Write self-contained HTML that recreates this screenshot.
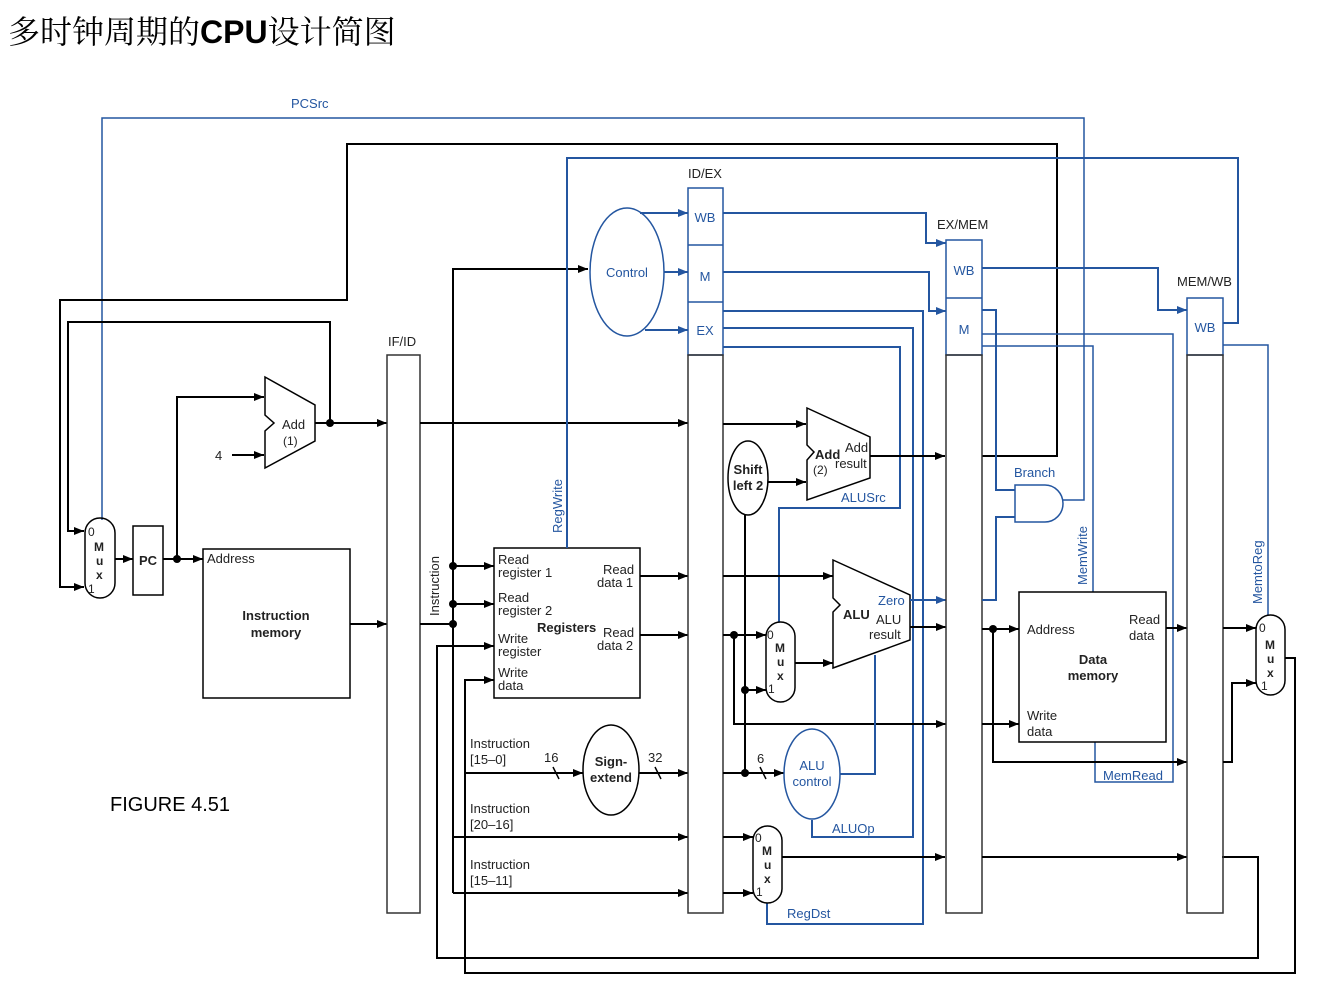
<!DOCTYPE html>
<html><head><meta charset="utf-8"><style>
html,body{margin:0;padding:0;background:#fff;width:1325px;height:1003px;overflow:hidden}
svg{display:block}
text{font-family:"Liberation Sans",Arial,sans-serif;font-size:13px;fill:#222}
.b{fill:none;stroke:#000;stroke-width:2}
.u{fill:none;stroke:#2456a0;stroke-width:2}
.bl{fill:#2456a0}
.bo{font-weight:bold}
</style></head><body>
<svg width="1325" height="1003" viewBox="0 0 1325 1003" xmlns="http://www.w3.org/2000/svg">
<defs>
<marker id="a" markerWidth="10" markerHeight="8" refX="10" refY="4" orient="auto" markerUnits="userSpaceOnUse"><path d="M0,0L10,4L0,8z" fill="#000"/></marker>
<marker id="c" markerWidth="10" markerHeight="8" refX="10" refY="4" orient="auto" markerUnits="userSpaceOnUse"><path d="M0,0L10,4L0,8z" fill="#2456a0"/></marker>
</defs>
<text x="8" y="43" style="font-family:'Liberation Sans','Noto Serif CJK SC','Noto Sans CJK SC',sans-serif;font-size:32px;fill:#000">多时钟周期的<tspan font-weight="bold" style="font-family:'Liberation Sans',sans-serif">CPU</tspan>设计简图</text>
<text x="110" y="811" style="font-size:20px;fill:#000">FIGURE 4.51</text>

<!-- PCSrc -->
<text x="291" y="108" class="bl">PCSrc</text>
<path class="u" style="stroke-width:1.5" d="M102,520V118H1084V500H1063"/>
<!-- big branch loop -->
<path class="b" d="M982,456H1057V144H347V300H60V587H84" marker-end="url(#a)"/>
<path class="b" d="M330,423V322H68V531H84" marker-end="url(#a)"/>
<!-- mux PC -->
<rect x="85" y="518" width="30" height="80" rx="15" class="b" style="stroke-width:1.5"/>
<text x="88" y="536" style="font-size:12px">0</text><text x="94" y="551" class="bo" style="font-size:12px">M</text><text x="96" y="565" class="bo" style="font-size:12px">u</text><text x="96" y="579" class="bo" style="font-size:12px">x</text><text x="88" y="593" style="font-size:12px">1</text>
<path class="b" d="M115,559H133" marker-end="url(#a)"/>
<rect x="133" y="526" width="30" height="69" class="b" style="stroke-width:1.5"/>
<text x="139" y="565" class="bo">PC</text>
<path class="b" d="M163,559H203" marker-end="url(#a)"/>
<circle cx="177" cy="559" r="4"/>
<path class="b" d="M177,559V397H264" marker-end="url(#a)"/>
<text x="215" y="460">4</text>
<path class="b" d="M232,455H264" marker-end="url(#a)"/>
<polygon points="265,377 315,405 315,441 265,468 265,431 274,423 265,415" fill="#fff" stroke="#000" stroke-width="1.5"/>
<text x="282" y="429">Add</text><text x="283" y="445" style="font-size:12px">(1)</text>
<path class="b" d="M315,423H387" marker-end="url(#a)"/>
<circle cx="330" cy="423" r="4"/>
<!-- instruction memory -->
<rect x="203" y="549" width="147" height="149" class="b" style="stroke-width:1.5"/>
<text x="207" y="563">Address</text>
<text x="276" y="620" text-anchor="middle" class="bo">Instruction</text><text x="276" y="637" text-anchor="middle" class="bo">memory</text>
<path class="b" d="M350,624H387" marker-end="url(#a)"/>
<!-- IF/ID -->
<text x="388" y="346">IF/ID</text>
<rect x="387" y="355" width="33" height="558" fill="#fff" stroke="#333" stroke-width="1.5"/>
<path class="b" d="M420,423H688" marker-end="url(#a)"/>
<path class="b" d="M420,624H453"/>
<path class="b" d="M453,893V269H588" marker-end="url(#a)"/>
<circle cx="453" cy="566" r="4"/><circle cx="453" cy="604" r="4"/><circle cx="453" cy="624" r="4"/>
<path class="b" d="M453,566H494" marker-end="url(#a)"/>
<path class="b" d="M453,604H494" marker-end="url(#a)"/>
<text transform="translate(439,616) rotate(-90)">Instruction</text>
<path class="b" d="M465,773H583" marker-end="url(#a)"/>
<path class="b" d="M453,837H688" marker-end="url(#a)"/>
<path class="b" d="M453,893H688" marker-end="url(#a)"/>
<text x="470" y="748">Instruction</text><text x="470" y="764">[15–0]</text>
<text x="470" y="813">Instruction</text><text x="470" y="829">[20–16]</text>
<text x="470" y="869">Instruction</text><text x="470" y="885">[15–11]</text>
<text x="544" y="762">16</text><path d="M553,767L559,779" stroke="#000" stroke-width="1.5"/>
<text x="648" y="762">32</text><path d="M655,767L661,779" stroke="#000" stroke-width="1.5"/>
<!-- write reg / write data loops -->
<path class="b" d="M1222,857H1258V958H437V646H494" marker-end="url(#a)"/>
<path class="b" d="M1285,658H1295V973H465V680H494" marker-end="url(#a)"/>
<!-- registers -->
<rect x="494" y="548" width="146" height="150" class="b" style="stroke-width:1.5;fill:#fff"/>
<text x="498" y="564">Read</text><text x="498" y="577">register 1</text>
<text x="498" y="602">Read</text><text x="498" y="615">register 2</text>
<text x="498" y="643">Write</text><text x="498" y="656">register</text>
<text x="498" y="677">Write</text><text x="498" y="690">data</text>
<text x="603" y="574">Read</text><text x="597" y="587">data 1</text>
<text x="603" y="637">Read</text><text x="597" y="650">data 2</text>
<text x="537" y="632" class="bo">Registers</text>
<path class="b" d="M640,576H688" marker-end="url(#a)"/>
<path class="b" d="M640,635H688" marker-end="url(#a)"/>
<!-- sign extend -->
<ellipse cx="611" cy="770" rx="28" ry="45" class="b" style="stroke-width:1.5;fill:#fff"/>
<text x="611" y="766" text-anchor="middle" class="bo">Sign-</text><text x="611" y="782" text-anchor="middle" class="bo">extend</text>
<path class="b" d="M639,773H688" marker-end="url(#a)"/>
<!-- control -->
<ellipse cx="627" cy="272" rx="37" ry="64" class="u" style="stroke-width:1.5;fill:#fff"/>
<text x="627" y="277" text-anchor="middle" class="bl">Control</text>
<path class="u" d="M640,213H688" marker-end="url(#c)"/>
<path class="u" d="M664,272H688" marker-end="url(#c)"/>
<path class="u" d="M645,330H688" marker-end="url(#c)"/>
<!-- RegWrite -->
<path class="u" d="M1223,323H1238V158H567V548"/>
<text transform="translate(562,533) rotate(-90)" class="bl">RegWrite</text>
<!-- ID/EX -->
<text x="688" y="178">ID/EX</text>
<rect x="688" y="188" width="35" height="167" fill="#fff" stroke="#2456a0" stroke-width="1.5"/>
<path d="M688,245H723M688,302H723" stroke="#2456a0" stroke-width="1.5"/>
<text x="705" y="222" text-anchor="middle" class="bl">WB</text>
<text x="705" y="281" text-anchor="middle" class="bl">M</text>
<text x="705" y="335" text-anchor="middle" class="bl">EX</text>
<rect x="688" y="355" width="35" height="558" fill="none" stroke="#333" stroke-width="1.5"/>
<!-- blue from ID/EX -->
<path class="u" d="M723,213H926V243H946" marker-end="url(#c)"/>
<path class="u" d="M723,272H929V311H946" marker-end="url(#c)"/>
<path class="u" d="M723,311H923V924H767V903"/>
<path class="u" d="M723,328H913V837H812V820"/>
<path class="u" d="M723,347H900V508H779V622"/>
<text x="841" y="502" class="bl">ALUSrc</text>
<text x="832" y="833" class="bl">ALUOp</text>
<text x="787" y="918" class="bl">RegDst</text>
<!-- ID/EX black outputs -->
<path class="b" d="M723,424H806" marker-end="url(#a)"/>
<path class="b" d="M723,576H833" marker-end="url(#a)"/>
<path class="b" d="M723,635H766" marker-end="url(#a)"/>
<circle cx="734" cy="635" r="4"/>
<path class="b" d="M734,635V724H946" marker-end="url(#a)"/>
<path class="b" d="M723,773H784" marker-end="url(#a)"/>
<circle cx="745" cy="773" r="4"/><circle cx="745" cy="690" r="4"/>
<path class="b" d="M745,773V515"/>
<path class="b" d="M745,690H766" marker-end="url(#a)"/>
<text x="757" y="763">6</text><path d="M760,767L766,779" stroke="#000" stroke-width="1.5"/>
<path class="b" d="M723,837H753" marker-end="url(#a)"/>
<path class="b" d="M723,893H753" marker-end="url(#a)"/>
<!-- shift left 2 -->
<ellipse cx="748" cy="478" rx="20" ry="37" fill="#fff" stroke="#000" stroke-width="1.5"/>
<text x="748" y="474" text-anchor="middle" class="bo">Shift</text><text x="748" y="490" text-anchor="middle" class="bo">left 2</text>
<path class="b" d="M768,482H806" marker-end="url(#a)"/>
<!-- Add 2 -->
<polygon points="807,408 870,437 870,478 807,500 807,460 814,452 807,445" fill="#fff" stroke="#000" stroke-width="1.5"/>
<text x="815" y="459" class="bo">Add</text><text x="845" y="452">Add</text><text x="835" y="468">result</text><text x="813" y="474" style="font-size:12px">(2)</text>
<path class="b" d="M870,456H945" marker-end="url(#a)"/>
<!-- ALU -->
<polygon points="833,560 910,595 910,640 833,668 833,612 840,605 833,598" fill="#fff" stroke="#000" stroke-width="1.5"/>
<text x="843" y="619" class="bo">ALU</text><text x="878" y="605" class="bl">Zero</text><text x="876" y="624">ALU</text><text x="869" y="639">result</text>
<path class="u" d="M910,600H946" marker-end="url(#c)"/>
<path class="b" d="M910,627H946" marker-end="url(#a)"/>
<!-- ALUSrc mux -->
<rect x="766" y="622" width="29" height="80" rx="14.5" fill="#fff" stroke="#000" stroke-width="1.5"/>
<text x="767" y="639" style="font-size:12px">0</text><text x="775" y="652" class="bo" style="font-size:12px">M</text><text x="777" y="666" class="bo" style="font-size:12px">u</text><text x="777" y="680" class="bo" style="font-size:12px">x</text><text x="768" y="693" style="font-size:12px">1</text>
<path class="b" d="M795,663H833" marker-end="url(#a)"/>
<!-- ALU control -->
<ellipse cx="812" cy="774" rx="28" ry="45" fill="#fff" stroke="#2456a0" stroke-width="1.5"/>
<text x="812" y="770" text-anchor="middle" class="bl">ALU</text><text x="812" y="786" text-anchor="middle" class="bl">control</text>
<path class="u" d="M840,774H875V655"/>
<!-- RegDst mux -->
<rect x="753" y="826" width="29" height="77" rx="14.5" fill="#fff" stroke="#000" stroke-width="1.5"/>
<text x="755" y="842" style="font-size:12px">0</text><text x="762" y="855" class="bo" style="font-size:12px">M</text><text x="764" y="869" class="bo" style="font-size:12px">u</text><text x="764" y="883" class="bo" style="font-size:12px">x</text><text x="756" y="896" style="font-size:12px">1</text>
<path class="b" d="M782,857H945" marker-end="url(#a)"/>
<!-- EX/MEM -->
<text x="937" y="229">EX/MEM</text>
<rect x="946" y="240" width="36" height="115" fill="#fff" stroke="#2456a0" stroke-width="1.5"/>
<path d="M946,298H982" stroke="#2456a0" stroke-width="1.5"/>
<text x="964" y="275" text-anchor="middle" class="bl">WB</text>
<text x="964" y="334" text-anchor="middle" class="bl">M</text>
<rect x="946" y="355" width="36" height="558" fill="none" stroke="#333" stroke-width="1.5"/>
<path class="u" d="M982,268H1158V310H1187" marker-end="url(#c)"/>
<path class="u" d="M982,310H996V490H1015"/>
<path class="u" style="stroke-width:1.5" d="M982,334H1173V782H1095V742"/>
<path class="u" style="stroke-width:1.5" d="M982,346H1093V592"/>
<path class="u" d="M982,600H996V517H1015"/>
<text x="1014" y="477" class="bl">Branch</text>
<path d="M1015,485H1045A18,18.5 0 0 1 1045,522H1015Z" fill="#fff" stroke="#2456a0" stroke-width="1.5"/>
<text transform="translate(1087,585) rotate(-90)" class="bl">MemWrite</text>
<text x="1103" y="780" class="bl">MemRead</text>
<!-- data memory -->
<rect x="1019" y="592" width="147" height="150" fill="#fff" stroke="#000" stroke-width="1.5"/>
<text x="1027" y="634">Address</text>
<text x="1129" y="624">Read</text><text x="1129" y="640">data</text>
<text x="1093" y="664" text-anchor="middle" class="bo">Data</text><text x="1093" y="680" text-anchor="middle" class="bo">memory</text>
<text x="1027" y="720">Write</text><text x="1027" y="736">data</text>
<path class="b" d="M982,629H1019" marker-end="url(#a)"/>
<circle cx="993" cy="629" r="4"/>
<path class="b" d="M993,629V762H1187" marker-end="url(#a)"/>
<path class="b" d="M982,724H1019" marker-end="url(#a)"/>
<path class="b" d="M1166,628H1187" marker-end="url(#a)"/>
<path class="b" d="M982,857H1187" marker-end="url(#a)"/>
<!-- MEM/WB -->
<text x="1177" y="286">MEM/WB</text>
<rect x="1187" y="298" width="36" height="57" fill="#fff" stroke="#2456a0" stroke-width="1.5"/>
<text x="1205" y="332" text-anchor="middle" class="bl">WB</text>
<rect x="1187" y="355" width="36" height="558" fill="none" stroke="#333" stroke-width="1.5"/>
<path class="u" style="stroke-width:1.5" d="M1223,345H1268V615"/>
<text transform="translate(1262,604) rotate(-90)" class="bl">MemtoReg</text>
<path class="b" d="M1223,628H1256" marker-end="url(#a)"/>
<path class="b" d="M1223,762H1232V683H1256" marker-end="url(#a)"/>
<rect x="1256" y="615" width="29" height="80" rx="14.5" fill="#fff" stroke="#000" stroke-width="1.5"/>
<text x="1259" y="632" style="font-size:12px">0</text><text x="1265" y="649" class="bo" style="font-size:12px">M</text><text x="1267" y="663" class="bo" style="font-size:12px">u</text><text x="1267" y="677" class="bo" style="font-size:12px">x</text><text x="1261" y="690" style="font-size:12px">1</text>
</svg>
</body></html>
